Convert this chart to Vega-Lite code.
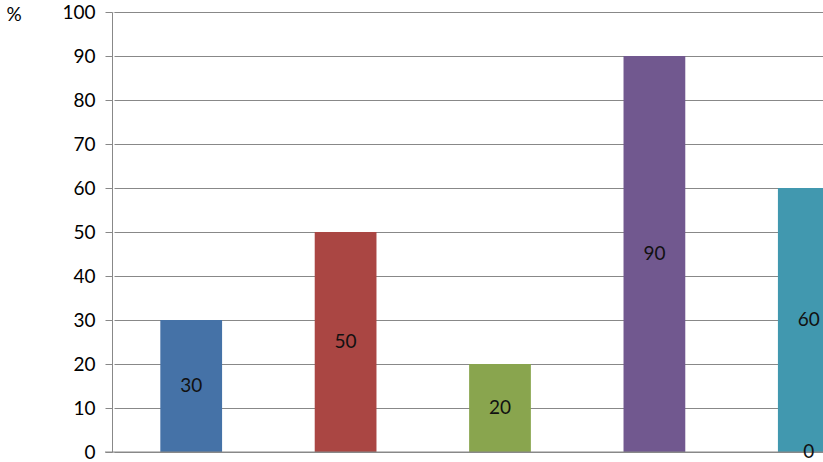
{
  "$schema": "https://vega.github.io/schema/vega-lite/v6.json",
  "width": 711,
  "height": 440,
  "autosize": {"type": "none"},
  "padding": {"left": 112, "top": 12, "right": 0, "bottom": 10},
  "background": "white",
  "data": {"values": [
    {"cat": "A", "series": "s1", "value": 30},
    {"cat": "B", "series": "s1", "value": 50},
    {"cat": "C", "series": "s1", "value": 20},
    {"cat": "D", "series": "s1", "value": 90},
    {"cat": "E", "series": "s1", "value": 60},
    {"cat": "E", "series": "s2", "value": 0}
  ]},
  "transform": [{"calculate": "datum.value / 2", "as": "mid"}],
  "encoding": {
    "x": {
      "field": "cat", "type": "nominal",
      "scale": {"domain": ["A", "B", "C", "D", "E"], "range": [2, 774], "paddingInner": 0.6, "paddingOuter": 0.3},
      "axis": null
    }
  },
  "layer": [
    {
      "mark": {"type": "bar", "clip": true},
      "encoding": {
        "y": {
          "field": "value", "type": "quantitative", "stack": null,
          "scale": {"domain": [0, 100], "nice": false},
          "axis": {
            "values": [0, 10, 20, 30, 40, 50, 60, 70, 80, 90, 100],
            "grid": true, "gridColor": "#888888", "gridWidth": 1,
            "domainColor": "#888888", "tickColor": "#888888", "tickSize": 7,
            "labelFont": "Lato", "labelFontSize": 19, "labelColor": "#000000", "labelPadding": 10,
            "title": "%", "titleAngle": 0, "titleFont": "Lato", "titleFontSize": 19,
            "titleFontWeight": "normal", "titleColor": "#000000",
            "titleX": -106, "titleY": 2, "titleAlign": "left", "titleBaseline": "middle"
          }
        },
        "color": {
          "field": "cat", "type": "nominal", "legend": null,
          "scale": {"domain": ["A", "B", "C", "D", "E"], "range": ["#4572A7", "#AA4643", "#89A54E", "#71588F", "#4198AF"]}
        }
      }
    },
    {
      "mark": {"type": "rule", "color": "#888888", "strokeWidth": 1, "clip": false},
      "data": {"values": [{"v": 0}]},
      "encoding": {"y": {"field": "v", "type": "quantitative"}, "x": {"value": -7}, "x2": {"value": 711}}
    },
    {
      "mark": {"type": "text", "font": "Lato", "fontSize": 19, "color": "#111111", "baseline": "middle", "align": "center"},
      "encoding": {
        "y": {"field": "mid", "type": "quantitative"},
        "text": {"field": "value", "type": "quantitative"}
      }
    }
  ]
}
